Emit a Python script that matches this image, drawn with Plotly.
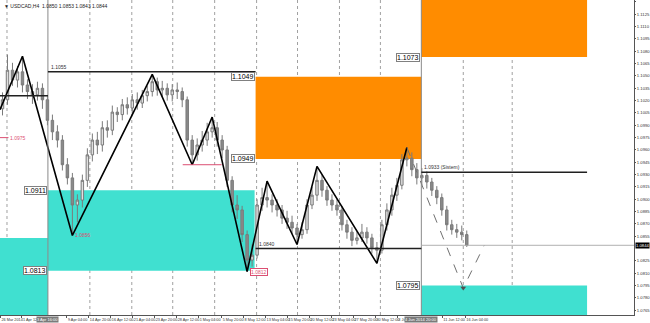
import plotly.graph_objects as go

title_text = "▼ USDCAD,H4  1.0850 1.0853 1.0843 1.0844"

# ---- candle data (H4, sampled) ----
opens = [1.1010,1.1021,1.1057,1.1045,1.1055,1.1039,1.1031,1.1027,1.1035,1.1021,
         1.0996,1.0982,1.0972,1.0942,1.0926,1.0893,1.0899,1.0923,1.0954,1.0972,
         1.0966,1.0987,1.0984,1.1006,1.1003,1.1015,1.1011,1.1021,1.1017,1.1026,
         1.1031,1.1043,1.1033,1.1035,1.1027,1.1033,1.1031,1.1021,1.0972,1.0954,
         1.0966,1.0972,1.0982,1.0987,1.0972,1.0960,1.0923,1.0893,1.0887,1.0857,
         1.0826,1.0832,1.0893,1.0902,1.0899,1.0893,1.0887,1.0877,1.0872,1.0865,
         1.0857,1.0863,1.0893,1.0905,1.0923,1.0911,1.0899,1.0893,1.0887,1.0869,
         1.0860,1.0850,1.0853,1.0860,1.0853,1.0841,1.0838,1.0869,1.0887,1.0905,
         1.0917,1.0948,1.0950,1.0936,1.0926,1.0929,1.0921,1.0911,1.0902,1.0887,
         1.0869,1.0863,1.0860,1.0857]
highs = [1.1030,1.1076,1.1066,1.1062,1.1074,1.1046,1.1040,1.1043,1.1041,1.1027,
         1.1003,1.0990,1.0978,1.0950,1.0932,1.0906,1.0930,1.0962,1.0980,1.0982,
         1.0995,1.0996,1.1014,1.1012,1.1022,1.1024,1.1028,1.1030,1.1033,1.1038,
         1.1052,1.1048,1.1044,1.1041,1.1040,1.1042,1.1036,1.1025,1.0978,1.0974,
         1.0983,1.0993,1.1000,1.0994,1.0978,1.0965,1.0928,1.0905,1.0892,1.0862,
         1.0845,1.0900,1.0914,1.0922,1.0906,1.0900,1.0893,1.0886,1.0880,1.0870,
         1.0872,1.0900,1.0915,1.0940,1.0930,1.0916,1.0906,1.0900,1.0892,1.0875,
         1.0866,1.0861,1.0870,1.0866,1.0858,1.0848,1.0875,1.0895,1.0914,1.0926,
         1.0955,1.0963,1.0957,1.0944,1.0938,1.0934,1.0926,1.0916,1.0907,1.0892,
         1.0875,1.0870,1.0868,1.0862]
lows = [1.1002,1.1015,1.1038,1.1036,1.1030,1.1022,1.1016,1.1020,1.1010,1.0990,
        1.0972,1.0963,1.0935,1.0918,1.0856,1.0872,1.0890,1.0915,1.0946,1.0955,
        1.0958,1.0975,1.0978,1.0994,1.0996,1.1003,1.1004,1.1009,1.1011,1.1019,
        1.1025,1.1026,1.1025,1.1020,1.1019,1.1022,1.1012,1.0964,1.0942,1.0947,
        1.0958,1.0965,1.0975,1.0964,1.0950,1.0915,1.0884,1.0876,1.0848,1.0812,
        1.0818,1.0828,1.0886,1.0890,1.0884,1.0879,1.0870,1.0864,1.0858,1.0845,
        1.0852,1.0858,1.0888,1.0898,1.0903,1.0892,1.0886,1.0880,1.0862,1.0852,
        1.0843,1.0845,1.0848,1.0846,1.0834,1.0822,1.0834,1.0862,1.0880,1.0898,
        1.0912,1.0940,1.0928,1.0918,1.0917,1.0913,1.0904,1.0894,1.0880,1.0862,
        1.0857,1.0853,1.0850,1.0842]
closes = [1.1021,1.1057,1.1045,1.1055,1.1039,1.1031,1.1027,1.1035,1.1021,1.0996,
          1.0982,1.0972,1.0942,1.0926,1.0893,1.0899,1.0923,1.0954,1.0972,1.0966,
          1.0987,1.0984,1.1006,1.1003,1.1015,1.1011,1.1021,1.1017,1.1026,1.1031,
          1.1043,1.1033,1.1035,1.1027,1.1033,1.1031,1.1021,1.0972,1.0954,1.0966,
          1.0972,1.0982,1.0987,1.0972,1.0960,1.0923,1.0893,1.0887,1.0857,1.0826,
          1.0832,1.0893,1.0902,1.0899,1.0893,1.0887,1.0877,1.0872,1.0865,1.0857,
          1.0863,1.0893,1.0905,1.0923,1.0911,1.0899,1.0893,1.0887,1.0869,1.0860,
          1.0850,1.0853,1.0860,1.0853,1.0841,1.0838,1.0869,1.0887,1.0905,1.0917,
          1.0948,1.0950,1.0936,1.0926,1.0929,1.0921,1.0911,1.0902,1.0887,1.0869,
          1.0863,1.0860,1.0857,1.0844]
bars = list(range(len(closes)))
last_price = 1.0844

# ---- zigzag swings ----
zz_bar = [-0.5, 4, 14, 30, 38, 42, 49, 53, 59, 63, 75, 81]
zz_price = [1.1009, 1.1074, 1.0856, 1.1052, 1.0942, 1.1000, 1.0812, 1.0922, 1.0845, 1.0940, 1.0822, 1.0963]

# ---- projected path (dashed) ----
proj_bar = [81, 92.3, 96.5]
proj_price = [1.0963, 1.0792, 1.0844]

# ---- supply / demand zones ----
zone_start = [-0.5, 9.1, 50.7, 83.9, 83.9]
zone_end = [9.1, 50.5, 83.9, 117.1, 117.1]
zone_low = [1.0700, 1.0813, 1.0949, 1.1073, 1.0700]
zone_high = [1.0853, 1.0911, 1.1049, 1.1200, 1.0795]
zone_kind = ["demand", "demand", "supply", "supply", "demand"]

# ---- horizontal levels ----
lvl_start = [-0.5, 9.1, 50.7, 83.9]
lvl_end = [9.1, 50.7, 83.9, 117.1]
lvl_price = [1.1026, 1.1055, 1.0840, 1.0933]
lvl_text = ["", "1.1055", "1.0840", "1.0933 (Sistem)"]

pink_start = [-0.5, 36.1]
pink_end = [1.2, 43.9]
pink_price = [1.0975, 1.0942]
pink_note_bar = [1.6, 14.6, 49.6]
pink_note_price = [1.0975, 1.0856, 1.0812]

# ---- vertical separators ----
sep_bar = [9.1, 83.9]
sep_text = ["3 Apr 16:00", "4 Jun 2014 20:00"]
grid_bar = [0.9, 17.5, 25.9, 34.1, 42.5, 50.9, 59.1, 67.5, 75.7, 92.3, 102.1]

# ---- axis labels ----
time_tick_bar = [-0.4, 3.9, 12.9, 17.3, 21.7, 26.1, 30.5, 34.9, 39.3, 43.9, 48.3, 52.7,
                 57.1, 61.5, 65.9, 70.3, 74.7, 79.1, 88.1, 92.7]
time_tick_text = ["26 Mar 2014", "1 Apr 12:00", "9 Apr 04:00", "14 Apr 20:00", "16 Apr 12:00",
                  "21 Apr 04:00", "23 Apr 20:00", "28 Apr 12:00", "1 May 04:00", "5 May 20:00",
                  "8 May 12:00", "13 May 04:00", "15 May 20:00", "20 May 12:00", "23 May 04:00",
                  "27 May 20:00", "30 May 12:00", "3 Jun 04:00", "11 Jun 12:00", "16 Jun 04:00"]
price_ticks = [1.0765, 1.0780, 1.0795, 1.0810, 1.0825, 1.0855, 1.0870, 1.0885,
               1.0900, 1.0915, 1.0930, 1.0945, 1.0960, 1.0975, 1.0990, 1.1005, 1.1020,
               1.1035, 1.1050, 1.1065, 1.1080, 1.1095, 1.1110, 1.1125, 1.1140]

FONT = "Liberation Sans, Arial, sans-serif"
ZONE_COLOR = {"demand": "#40E0D0", "supply": "#FF8C00"}
PINK = "#dc4f72"
X_RANGE = [-0.5, 126.5]
Y_RANGE = [1.07592, 1.11424]

fig = go.Figure()
shapes = []
ann = []

for x0, x1, lo, hi, k in zip(zone_start, zone_end, zone_low, zone_high, zone_kind):
    shapes.append(dict(type="rect", xref="x", yref="y", x0=x0, x1=x1, y0=lo, y1=hi,
                       fillcolor=ZONE_COLOR[k], line=dict(width=0), layer="below"))
    for v in (lo, hi):
        if x0 > 0 and Y_RANGE[0] < v < Y_RANGE[1]:
            ann.append(dict(x=x0, y=v, xref="x", yref="y", text=f"{v:.4f}", showarrow=False,
                            xanchor="right", yanchor="middle", xshift=-1,
                            font=dict(size=7, color="black", family=FONT),
                            bgcolor="white", bordercolor="#808080", borderwidth=1, borderpad=0))

for gx in grid_bar:
    shapes.append(dict(type="line", xref="x", yref="paper", x0=gx, x1=gx, y0=0, y1=1,
                       line=dict(color="#a0a0a0", width=1, dash="dot"), layer="below"))
for sx in sep_bar:
    shapes.append(dict(type="line", xref="x", yref="paper", x0=sx, x1=sx, y0=0, y1=1,
                       line=dict(color="#8a8a8a", width=1)))

for x0, x1, p, t in zip(lvl_start, lvl_end, lvl_price, lvl_text):
    shapes.append(dict(type="line", xref="x", yref="y", x0=x0, x1=x1, y0=p, y1=p,
                       line=dict(color="#202020", width=1.5)))
    if t:
        ann.append(dict(x=x0, y=p, xref="x", yref="y", text=t, showarrow=False,
                        xanchor="left", yanchor="bottom", xshift=1, yshift=0,
                        font=dict(size=5, color="#333333", family=FONT)))

for x0, x1, p in zip(pink_start, pink_end, pink_price):
    shapes.append(dict(type="line", xref="x", yref="y", x0=x0, x1=x1, y0=p, y1=p,
                       line=dict(color=PINK, width=1)))
for i, (x, p) in enumerate(zip(pink_note_bar, pink_note_price)):
    ann.append(dict(x=x, y=p, xref="x", yref="y", text=f"{p:.4f}", showarrow=False,
                    xanchor="left", yanchor="middle",
                    font=dict(size=5, color=PINK, family=FONT),
                    bgcolor="white" if i == 2 else None,
                    bordercolor=PINK if i == 2 else None, borderwidth=1 if i == 2 else 0,
                    borderpad=0))

# current price line
shapes.append(dict(type="line", xref="x", yref="y", x0=83.9, x1=X_RANGE[1], y0=last_price, y1=last_price,
                   line=dict(color="#b0b0b0", width=1)))

fig.add_trace(go.Candlestick(
    x=bars, open=opens, high=highs, low=lows, close=closes,
    increasing=dict(line=dict(color="#7a7a7a", width=1), fillcolor="#e0e0e0"),
    decreasing=dict(line=dict(color="#7a7a7a", width=1), fillcolor="#8a8a8a"),
    whiskerwidth=0, showlegend=False, hoverinfo="skip"))

fig.add_trace(go.Scatter(x=zz_bar, y=zz_price, mode="lines",
                         line=dict(color="black", width=1.6), showlegend=False, hoverinfo="skip"))
fig.add_trace(go.Scatter(x=proj_bar, y=proj_price, mode="lines",
                         line=dict(color="#707070", width=1, dash="dash"), showlegend=False, hoverinfo="skip"))
fig.add_trace(go.Scatter(x=proj_bar[1:2], y=proj_price[1:2], mode="markers",
                         marker=dict(symbol="triangle-down", size=5, color="#505050"),
                         showlegend=False, hoverinfo="skip"))

# separator time boxes on axis
for sx, st in zip(sep_bar, sep_text):
    ann.append(dict(x=sx, y=0, xref="x", yref="paper", text=st, showarrow=False,
                    xanchor="center", yanchor="top", yshift=-1,
                    font=dict(size=4, color="white", family=FONT),
                    bgcolor="#7a7a7a", borderpad=0))

# title
ann.append(dict(x=0, y=1, xref="paper", yref="paper", text=title_text, showarrow=False,
                xanchor="left", yanchor="top", xshift=2, yshift=-1,
                font=dict(size=5, color="#222222", family=FONT)))
# current price tag
ann.append(dict(x=1, y=last_price, xref="paper", yref="y", text=f"{last_price:.4f}", showarrow=False,
                xanchor="left", yanchor="middle", xshift=1,
                font=dict(size=4.2, color="white", family=FONT), bgcolor="black", borderpad=0))

fig.update_layout(
    width=650, height=323,
    margin=dict(l=0, r=16, t=0, b=8),
    paper_bgcolor="white", plot_bgcolor="white",
    shapes=shapes, annotations=ann,
    xaxis=dict(range=X_RANGE, showgrid=False, zeroline=False, rangeslider=dict(visible=False),
               tickmode="array", tickvals=time_tick_bar, ticktext=time_tick_text,
               ticklabelposition="outside right", tickangle=0, automargin=False,
               ticks="outside", ticklen=2, tickcolor="#555555",
               tickfont=dict(size=3.8, color="#333333", family=FONT),
               showline=True, linecolor="#555555", linewidth=1),
    yaxis=dict(range=Y_RANGE, side="right", showgrid=False, zeroline=False, automargin=False,
               tickmode="array", tickvals=price_ticks, tickformat=".4f",
               ticks="outside", ticklen=1, tickcolor="#555555",
               tickfont=dict(size=4.2, color="#333333", family=FONT),
               showline=True, linecolor="#555555", linewidth=1),
)

fig.write_html("out.html")
